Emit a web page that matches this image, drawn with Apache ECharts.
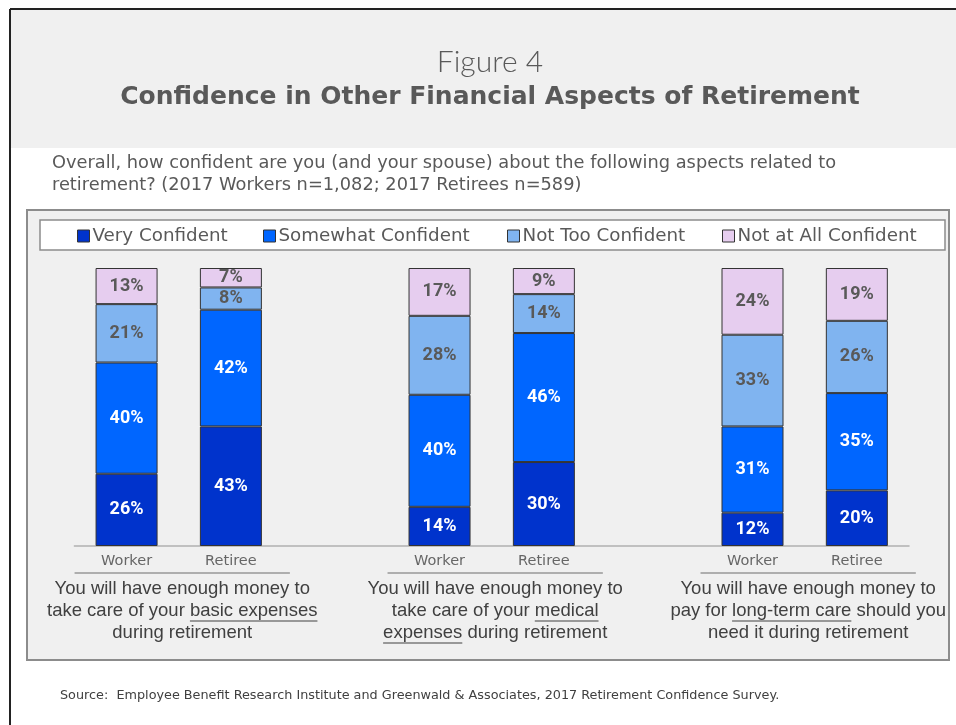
<!DOCTYPE html>
<html>
<head>
<meta charset="utf-8">
<script src="https://cdn.jsdelivr.net/npm/echarts@6/dist/echarts.min.js"></script>
<style>
  html, body { margin: 0; padding: 0; background: #fff; }
  #main { width: 956px; height: 725px; }
</style>
</head>
<body>
<div id="main"></div>
<script>
// categories (blank slots separate the three questions)
var categories = ['Worker', 'Retiree', '', 'Worker', 'Retiree', '', 'Worker', 'Retiree'];
var seriesNames = ['Very Confident', 'Somewhat Confident', 'Not Too Confident', 'Not at All Confident'];

// percentages (labels show the rounded value)
var veryConfident     = [26, 43, null, 14.1, 30.2, null, 12, 20];
var somewhatConfident = [40, 42, null, 40.3, 46.4, null, 31, 35];
var notTooConfident   = [21,  8, null, 28.4, 14,   null, 33, 26];
var notAtAllConfident = [13,  7, null, 17.2,  9.4, null, 24, 19];

// question under each pair of bars, _text_ is underlined
var groupNotes = [
  ['You will have enough money to', 'take care of your _basic expenses_', 'during retirement'],
  ['You will have enough money to', 'take care of your _medical_', '_expenses_ during retirement'],
  ['You will have enough money to', 'pay for _long-term care_ should you', 'need it during retirement']
];
var groupStart = [0, 3, 6];

var colors = ['#0033cc', '#0066ff', '#80b4f0', '#e6cdef'];
var labelColors = ['#ffffff', '#ffffff', '#595959', '#595959'];
var legendLeft = [77, 263, 507, 722];

var gothic = '"DejaVu Sans"';
var chart = echarts.init(document.getElementById('main'));

var baseGraphic = [
  // frame + header band
  { type: 'rect', z: -10, shape: { x: 10, y: 9, width: 960, height: 139 }, style: { fill: '#f0f0f0' } },
  { type: 'line', z: -9, shape: { x1: 10, y1: 9, x2: 956, y2: 9 }, style: { stroke: '#222', lineWidth: 2 } },
  { type: 'line', z: -9, shape: { x1: 10, y1: 9, x2: 10, y2: 725 }, style: { stroke: '#222', lineWidth: 2 } },
  { type: 'text', style: { text: 'Figure 4', x: 490, y: 62, textAlign: 'center', textVerticalAlign: 'middle',
      fill: '#595959', fontSize: 30, fontFamily: 'Lato', fontWeight: 300 } },
  { type: 'text', style: { text: 'Confidence in Other Financial Aspects of Retirement', x: 490, y: 97,
      textAlign: 'center', textVerticalAlign: 'middle', fill: '#595959', fontSize: 25, fontFamily: gothic, fontWeight: 'bold' } },
  { type: 'text', style: { text: 'Overall, how confident are you (and your spouse) about the following aspects related to',
      x: 52, y: 163, textVerticalAlign: 'middle', fill: '#595959', fontSize: 17.8, fontFamily: gothic } },
  { type: 'text', style: { text: 'retirement? (2017 Workers n=1,082; 2017 Retirees n=589)',
      x: 52, y: 185, textVerticalAlign: 'middle', fill: '#595959', fontSize: 17.8, fontFamily: gothic } },
  // chart box + legend box
  { type: 'rect', z: -10, shape: { x: 27, y: 210, width: 922, height: 450 }, style: { fill: '#f0f0f0', stroke: '#8c8c8c', lineWidth: 2 } },
  { type: 'rect', z: -9, shape: { x: 40, y: 220, width: 905, height: 30 }, style: { fill: '#ffffff', stroke: '#8c8c8c', lineWidth: 1.5 } },
  { type: 'text', style: { text: 'Source:  Employee Benefit Research Institute and Greenwald & Associates, 2017 Retirement Confidence Survey.',
      x: 60, y: 696, textVerticalAlign: 'middle', fill: '#404040', fontSize: 12.8, fontFamily: gothic } }
];

function makeSeries(name, data, i) {
  return {
    name: name,
    type: 'bar',
    stack: 'all',
    barWidth: 62,
    data: data,
    itemStyle: { color: colors[i], borderColor: '#333', borderWidth: 1 },
    label: {
      show: true,
      position: 'inside',
      color: labelColors[i],
      fontSize: 18,
      fontWeight: 'bold',
      fontFamily: 'Roboto',
      formatter: function (p) { return Math.round(p.value) + '%'; }
    }
  };
}

var option = {
  animation: false,
  backgroundColor: '#ffffff',
  legend: seriesNames.map(function (n, i) {
    return {
      data: [n], left: legendLeft[i], top: 227, padding: 0,
      itemWidth: 12, itemHeight: 12, itemGap: 4,
      icon: 'rect',
      itemStyle: { borderColor: '#333', borderWidth: 1 },
      textStyle: { color: '#595959', fontSize: 18.3, fontFamily: gothic, padding: [0, 0, 0, -2] }
    };
  }),
  grid: { left: 74.4, right: 47, top: 268, bottom: 179 },
  xAxis: {
    type: 'category',
    data: categories,
    axisLine: { lineStyle: { color: '#b0b0b0', width: 1.5 } },
    axisTick: { show: false },
    axisLabel: { color: '#666666', fontSize: 14.5, fontFamily: gothic, margin: 8 }
  },
  yAxis: { type: 'value', min: 0, max: 100, show: false, splitLine: { show: false } },
  series: [
    makeSeries(seriesNames[0], veryConfident, 0),
    makeSeries(seriesNames[1], somewhatConfident, 1),
    makeSeries(seriesNames[2], notTooConfident, 2),
    makeSeries(seriesNames[3], notAtAllConfident, 3)
  ],
  graphic: baseGraphic
};
chart.setOption(option);

// group separators and question text, positioned from the axis
var ctx = document.createElement('canvas').getContext('2d');
var noteFont = '18.5px "Liberation Sans"';
ctx.font = noteFont;
var extra = [];
groupStart.forEach(function (s, g) {
  var xw = chart.convertToPixel({ xAxisIndex: 0 }, s);
  var xr = chart.convertToPixel({ xAxisIndex: 0 }, s + 1);
  var x1 = xw - 52, x2 = xr + 59;
  extra.push({ type: 'line', shape: { x1: x1, y1: 573, x2: x2, y2: 573 }, style: { stroke: '#999', lineWidth: 1.5 } });
  var cx = (x1 + x2) / 2;
  groupNotes[g].forEach(function (line, k) {
    var y = 589 + k * 22;
    var parts = line.split('_');
    var plain = parts.join('');
    var w = ctx.measureText(plain).width;
    var x = cx - w / 2;
    extra.push({ type: 'text', style: { text: plain, x: x, y: y, textVerticalAlign: 'middle',
      fill: '#404040', font: noteFont } });
    var pos = x;
    parts.forEach(function (p, j) {
      var pw = ctx.measureText(p).width;
      if (j % 2 === 1) {
        extra.push({ type: 'line', shape: { x1: pos, y1: y + 10, x2: pos + pw, y2: y + 10 }, style: { stroke: '#404040', lineWidth: 1 } });
      }
      pos += pw;
    });
  });
});
chart.setOption({ graphic: baseGraphic.concat(extra) });
</script>
</body>
</html>
